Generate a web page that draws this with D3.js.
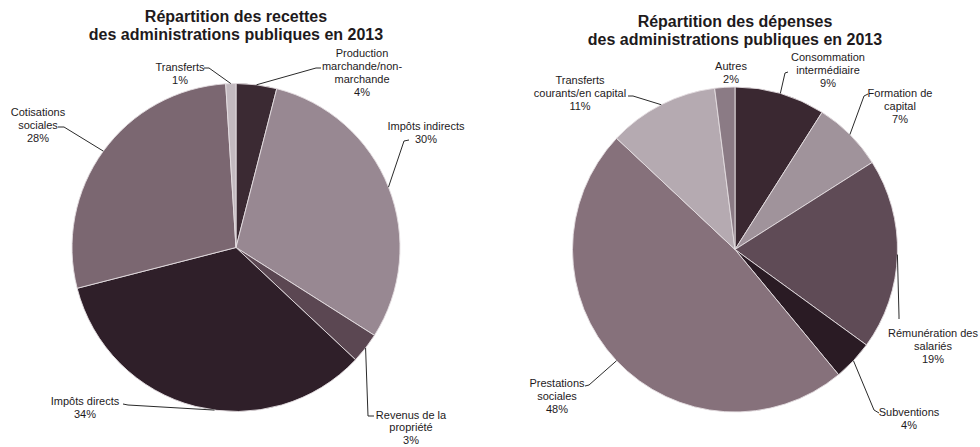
<!DOCTYPE html>
<html lang="fr">
<head>
<meta charset="utf-8">
<script src="https://cdn.jsdelivr.net/npm/d3@7"></script>
<style>
  html, body { margin: 0; padding: 0; background: #ffffff; }
  svg { display: block; }
  text { font-family: "Liberation Sans", Arial, sans-serif; fill: #1e1a1c; }
</style>
</head>
<body>
<script>
// Recettes des administrations publiques, 2013 (en %)
const recettesCategories = [
  "Production marchande/non-marchande", "Impôts indirects", "Revenus de la propriété",
  "Impôts directs", "Cotisations sociales", "Transferts"
];
const recettesValues = [4, 30, 3, 34, 28, 1];
const recettesLabelLines = [
  ["Production", "marchande/non-", "marchande"],
  ["Impôts indirects"],
  ["Revenus de la", "propriété"],
  ["Impôts directs"],
  ["Cotisations", "sociales"],
  ["Transferts"]
];

// Dépenses des administrations publiques, 2013 (en %)
const depensesCategories = [
  "Consommation intermédiaire", "Formation de capital", "Rémunération des salariés",
  "Subventions", "Prestations sociales", "Transferts courants/en capital", "Autres"
];
const depensesValues = [9, 7, 19, 4, 48, 11, 2];
const depensesLabelLines = [
  ["Consommation", "intermédiaire"],
  ["Formation de", "capital"],
  ["Rémunération des", "salariés"],
  ["Subventions"],
  ["Prestations", "sociales"],
  ["Transferts", "courants/en capital"],
  ["Autres"]
];

// Slice fills
const recettesColors = ["#3b2a33", "#988892", "#5b4752", "#2f1f29", "#7b6771", "#c3bac0"];
const depensesColors = ["#3a2831", "#a0939b", "#5f4b56", "#2a1b24", "#86717b", "#b5aab1", "#8b7b85"];

// Label placement: text centre x, first baseline y, leader start point and elbow
const recettesLayout = [
  { x: 362, y: 57, from: [321, 68], elbow: [316, 68] },
  { x: 426, y: 130, from: [409, 140], elbow: [404, 141] },
  { x: 411, y: 419, lineH: 12.4, from: [374, 416], elbow: [368, 416] },
  { x: 85, y: 405, from: [123, 404], elbow: [128, 405], tweak: -0.12 },
  { x: 38, y: 116, from: [58, 127], elbow: [64, 127] },
  { x: 180, y: 71, from: [204, 68], elbow: [209, 68] }
];
const depensesLayout = [
  { x: 828, y: 61, from: [788, 72], elbow: [785, 73] },
  { x: 900, y: 97, from: [868, 94], elbow: [864, 96] },
  { x: 933, y: 337, from: [899, 319], elbow: [899, 316] },
  { x: 909, y: 416, from: [879, 413], elbow: [874, 410] },
  { x: 557, y: 387, from: [585, 386], elbow: [589, 385] },
  { x: 580, y: 84, from: [628, 96], elbow: [633, 96] },
  { x: 731, y: 70, from: null }
];

const W = 980, H = 447;
const svg = d3.select("body").append("svg")
  .attr("width", W).attr("height", H)
  .attr("viewBox", `0 0 ${W} ${H}`);

svg.append("rect").attr("width", W).attr("height", H).attr("fill", "#ffffff");

const LINE_H = 12.9;

function drawPie(cfg) {
  const data = cfg.values.map((v, i) => ({ name: cfg.categories[i], value: v }));
  const pie = d3.pie().sort(null).value(d => d.value)
    .startAngle(0).endAngle(2 * Math.PI);
  const arcs = pie(data);
  const arc = d3.arc().innerRadius(0).outerRadius(cfg.r);

  // Title
  const title = svg.append("text")
    .attr("x", cfg.cx).attr("y", cfg.titleY)
    .attr("text-anchor", "middle")
    .style("font-size", "16px").style("font-weight", "bold");
  cfg.title.forEach((t, i) => {
    title.append("tspan").attr("x", cfg.cx).attr("dy", i === 0 ? 0 : 18).text(t);
  });

  // Slices
  const g = svg.append("g").attr("transform", `translate(${cfg.cx},${cfg.cy})`);
  g.selectAll("path.slice").data(arcs).join("path")
    .attr("class", "slice")
    .attr("d", arc)
    .attr("fill", (d, i) => cfg.colors[i])
    .attr("stroke", "#e4dee1")
    .attr("stroke-width", 0.9)
    .attr("stroke-linejoin", "round");

  // Leader lines and labels
  arcs.forEach((a, i) => {
    const L = cfg.layout[i];
    const mid = (a.startAngle + a.endAngle) / 2 + (L.tweak || 0);
    const px = cfg.cx + cfg.r * Math.sin(mid);
    const py = cfg.cy - cfg.r * Math.cos(mid);
    if (L.from) {
      svg.append("path")
        .attr("d", `M${L.from[0]},${L.from[1]}L${L.elbow[0]},${L.elbow[1]}L${px},${py}`)
        .attr("fill", "none")
        .attr("stroke", "#2a2a2a")
        .attr("stroke-width", 1);
    }
    const lines = cfg.labelLines[i].concat([`${a.data.value}%`]);
    const lh = L.lineH || LINE_H;
    const t = svg.append("text")
      .attr("x", L.x).attr("y", L.y)
      .attr("text-anchor", "middle")
      .style("font-size", "11px");
    lines.forEach((s, k) => {
      t.append("tspan").attr("x", L.x).attr("dy", k === 0 ? 0 : lh).text(s);
    });
  });
}

drawPie({
  cx: 236, cy: 247.5, r: 164,
  title: ["Répartition des recettes", "des administrations publiques en 2013"],
  titleY: 22,
  categories: recettesCategories,
  values: recettesValues,
  labelLines: recettesLabelLines,
  colors: recettesColors,
  layout: recettesLayout
});

drawPie({
  cx: 735, cy: 249.5, r: 162.5,
  title: ["Répartition des dépenses", "des administrations publiques en 2013"],
  titleY: 27,
  categories: depensesCategories,
  values: depensesValues,
  labelLines: depensesLabelLines,
  colors: depensesColors,
  layout: depensesLayout
});
</script>
</body>
</html>
